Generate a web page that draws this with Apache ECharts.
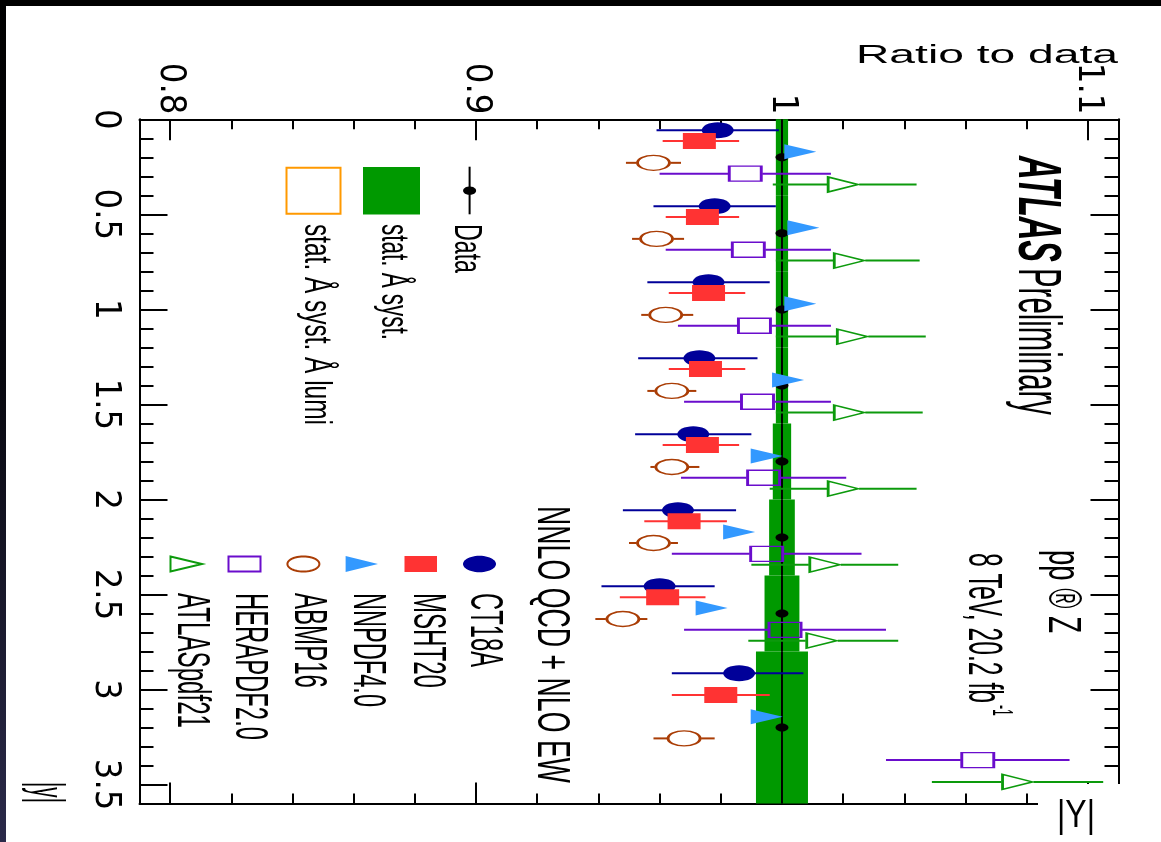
<!DOCTYPE html>
<html><head><meta charset="utf-8">
<script src="https://cdn.jsdelivr.net/npm/echarts@6/dist/echarts.min.js"></script>
<style>
html,body{margin:0;padding:0;background:#000;width:1161px;height:842px;overflow:hidden;}
#side{position:absolute;left:0;top:0;width:6px;height:842px;background:linear-gradient(to bottom,#000 0%,#08080f 45%,#2b2a4a 100%);}
#paper{position:absolute;left:6px;top:6px;width:1155px;height:836px;background:#fff;}
#chart{position:absolute;left:0;top:0;width:1161px;height:842px;}
</style></head><body>
<div id="side"></div><div id="paper"></div><div id="chart"></div>
<script>
// ---------------- data ----------------
const binEdges = [0, 0.4, 0.8, 1.2, 1.6, 2.0, 2.4, 2.8, 3.6];
const dataY = [0.2, 0.6, 1.0, 1.4, 1.8, 2.2, 2.6, 3.2];
const dataRatio = [1, 1, 1, 1, 1, 1, 1, 1];
const dataBandHalf = [0.002, 0.002, 0.002, 0.002, 0.003, 0.0042, 0.0057, 0.0085];

const ct18aY     = [0.057, 0.457, 0.857, 1.257, 1.657, 2.057, 2.457, 2.914];
const ct18aRatio = [0.979, 0.978, 0.976, 0.973, 0.971, 0.966, 0.960, 0.986];
const ct18aLow   = [0.959, 0.958, 0.956, 0.953, 0.952, 0.948, 0.941, 0.964];
const ct18aHigh  = [0.999, 0.998, 0.996, 0.992, 0.990, 0.985, 0.978, 1.007];

const msht20Y     = [0.114, 0.514, 0.914, 1.314, 1.714, 2.114, 2.514, 3.029];
const msht20Ratio = [0.973, 0.974, 0.976, 0.975, 0.974, 0.968, 0.961, 0.980];
const msht20Low   = [0.961, 0.962, 0.963, 0.963, 0.961, 0.955, 0.947, 0.964];
const msht20High  = [0.986, 0.986, 0.988, 0.988, 0.986, 0.982, 0.975, 0.996];

const nnpdf40Y     = [0.171, 0.571, 0.971, 1.371, 1.771, 2.171, 2.571, 3.143];
const nnpdf40Ratio = [1.006, 1.007, 1.006, 1.002, 0.995, 0.986, 0.977, 0.995];

const abmp16Y     = [0.229, 0.629, 1.029, 1.429, 1.829, 2.229, 2.629, 3.257];
const abmp16Ratio = [0.958, 0.959, 0.962, 0.964, 0.964, 0.958, 0.948, 0.968];
const abmp16Low   = [0.949, 0.951, 0.954, 0.956, 0.957, 0.950, 0.939, 0.958];
const abmp16High  = [0.967, 0.968, 0.971, 0.972, 0.973, 0.966, 0.956, 0.978];

const herapdf20Y     = [0.286, 0.686, 1.086, 1.486, 1.886, 2.286, 2.686, 3.371];
const herapdf20Ratio = [0.988, 0.989, 0.991, 0.992, 0.994, 0.995, 1.001, 1.064];
const herapdf20Low   = [0.960, 0.962, 0.966, 0.968, 0.967, 0.964, 0.968, 1.034];
const herapdf20High  = [1.016, 1.016, 1.016, 1.016, 1.021, 1.026, 1.034, 1.094];

const atlaspdf21Y     = [0.343, 0.743, 1.143, 1.543, 1.943, 2.343, 2.743, 3.486];
const atlaspdf21Ratio = [1.020, 1.022, 1.023, 1.022, 1.020, 1.014, 1.013, 1.077];
const atlaspdf21Low   = [0.997, 0.998, 0.998, 0.998, 0.996, 0.990, 0.989, 1.049];
const atlaspdf21High  = [1.044, 1.045, 1.047, 1.046, 1.044, 1.038, 1.038, 1.105];

const ratioTickLabels = [0.8, 0.9, 1.0, 1.1];
const ratioMinorTicks = [0.82, 0.84, 0.86, 0.88, 0.92, 0.94, 0.96, 0.98, 1.02, 1.04, 1.06, 1.08];
const absYTickLabels = [0, 0.5, 1, 1.5, 2, 2.5, 3, 3.5];
const absYMinorTicks = [0.1,0.2,0.3,0.4,0.6,0.7,0.8,0.9,1.1,1.2,1.3,1.4,1.6,1.7,1.8,1.9,2.1,2.2,2.3,2.4,2.6,2.7,2.8,2.9,3.1,3.2,3.3,3.4];

// ---------------- styles ----------------
const C_CT = '#000099', C_MSHT = '#ff3333', C_NN = '#3399ff', C_ABMP = '#aa3d05', C_HERA = '#6a0dcc', C_ATLAS = '#0c9a0c', C_BAND = '#009900', C_LUMI = '#ff9900';
const AXFONT = "'Liberation Sans Narrow','Arial Narrow','Nimbus Sans Narrow','DejaVu Sans Condensed','Liberation Sans',sans-serif";
const TXTFONT = "'Liberation Sans',Arial,Helvetica,sans-serif";
const ELLIPSE = 'path://M0,10 C0,4.5 4.5,0 10,0 C15.5,0 20,4.5 20,10 C20,15.5 15.5,20 10,20 C4.5,20 0,15.5 0,10 Z';
const TRI_R = 'path://M0,0 L20,10 L0,20 Z';

function ratioAxis(position, major, labels) {
  return {
    type: 'value', gridIndex: 0, position: position, min: 0.79, max: 1.11,
    axisLine: { show: major, onZero: false, lineStyle: { color: '#000', width: 2 } },
    axisTick: { show: true, inside: true, length: major ? 21 : 10, customValues: major ? ratioTickLabels : ratioMinorTicks, lineStyle: { color: '#000', width: 2 } },
    axisLabel: { show: labels, customValues: ratioTickLabels, rotate: 90, margin: 5, fontSize: 36, fontFamily: AXFONT, color: '#000' },
    splitLine: { show: false }
  };
}
function absYAxis(position, major, labels) {
  return {
    type: 'value', gridIndex: 0, position: position, min: 0, max: 3.6, inverse: true,
    axisLine: { show: major, onZero: false, lineStyle: { color: '#000', width: 2 } },
    axisTick: { show: true, inside: true, length: major ? 28 : 14, customValues: major ? absYTickLabels : absYMinorTicks, lineStyle: { color: '#000', width: 2 } },
    axisLabel: { show: labels, customValues: absYTickLabels, rotate: -90, margin: 16, fontSize: 36, fontFamily: AXFONT, color: '#000' },
    splitLine: { show: false }
  };
}

function errSeries(name, ys, vals, lows, highs, color, halfW, z) {
  return {
    type: 'custom', name: name + ' uncertainty', xAxisIndex: 0, yAxisIndex: 0, z: z, silent: true, clip: false,
    data: ys.map((y, i) => [vals[i], y, lows[i], highs[i]]),
    encode: { x: [0, 2, 3], y: 1 },
    renderItem: function (params, api) {
      const p = api.coord([api.value(0), api.value(1)]);
      const l = api.coord([api.value(2), api.value(1)]);
      const h = api.coord([api.value(3), api.value(1)]);
      const ch = [];
      if (l[0] < p[0] - halfW) ch.push({ type: 'line', shape: { x1: l[0], y1: p[1], x2: p[0] - halfW, y2: p[1] }, style: { stroke: color, lineWidth: 2 } });
      if (h[0] > p[0] + halfW) ch.push({ type: 'line', shape: { x1: p[0] + halfW, y1: p[1], x2: h[0], y2: p[1] }, style: { stroke: color, lineWidth: 2 } });
      return { type: 'group', children: ch };
    }
  };
}
function markSeries(name, ys, vals, symbol, size, fill, stroke, z) {
  return {
    type: 'scatter', name: name, xAxisIndex: 0, yAxisIndex: 0, z: z, silent: true,
    symbol: symbol, symbolSize: size,
    data: ys.map((y, i) => [vals[i], y]),
    itemStyle: { color: fill, borderColor: stroke || fill, borderWidth: stroke ? 2 : 0, opacity: 1 },
    emphasis: { disabled: true }
  };
}

// ---------------- annotation helpers ----------------
const mctx = document.createElement('canvas').getContext('2d');
function fontStr(size, o) { return (o.style || 'normal') + ' ' + (o.weight || 'normal') + ' ' + size + 'px ' + (o.family || TXTFONT); }
function vText(str, cx, y0, y1, size, o) {
  o = o || {};
  const f = fontStr(size, o); mctx.font = f;
  const w = mctx.measureText(str).width;
  return { type: 'text', x: cx, y: y0, rotation: -Math.PI / 2, scaleX: (y1 - y0) / w, scaleY: 1, z: 60, silent: true,
    style: { text: str, font: f, fill: o.color || '#000', align: 'left', verticalAlign: 'middle', textAlign: 'left', textVerticalAlign: 'middle' } };
}
function hText(str, x0, x1, cy, size, o) {
  o = o || {};
  const f = fontStr(size, o); mctx.font = f;
  const w = mctx.measureText(str).width;
  return { type: 'text', x: x0, y: cy, scaleX: (x1 - x0) / w, scaleY: 1, z: 60, silent: true,
    style: { text: str, font: f, fill: o.color || '#000', align: 'left', verticalAlign: 'middle', textAlign: 'left', textVerticalAlign: 'middle' } };
}
function ellipsePts(cx, cy, rx, ry) {
  const pts = [];
  for (let k = 0; k < 48; k++) { const a = k / 48 * Math.PI * 2; pts.push([cx + rx * Math.cos(a), cy + ry * Math.sin(a)]); }
  return pts;
}

const graphics = [
  // corner patch under the |Y| title
  { type: 'rect', shape: { x: 1038, y: 784, width: 123, height: 58 }, style: { fill: '#fff' }, z: 50, silent: true },
  hText('|Y|', 1057, 1095, 817, 38),
  hText('Ratio to data', 856, 1118, 56, 25),
  vText('|y|', 45, 782, 803, 47),
  // data legend
  { type: 'line', shape: { x1: 469.6, y1: 166.7, x2: 469.6, y2: 214.3 }, style: { stroke: '#000', lineWidth: 2 }, z: 60, silent: true },
  { type: 'polygon', shape: { points: ellipsePts(469.6, 190.7, 6.5, 4.2) }, style: { fill: '#000' }, z: 60, silent: true },
  vText('Data', 465, 224, 273, 38),
  { type: 'rect', shape: { x: 363, y: 167, width: 57, height: 47.5 }, style: { fill: C_BAND }, z: 60, silent: true },
  vText('stat. \u00C5 syst.', 392, 224, 340, 38),
  { type: 'rect', shape: { x: 286.5, y: 167.7, width: 54, height: 46 }, style: { fill: 'none', stroke: C_LUMI, lineWidth: 2 }, z: 60, silent: true },
  vText('stat. \u00C5 syst. \u00C5 lumi', 315, 224, 425, 38),
  // PDF legend
  vText('NNLO QCD + NLO EW', 551, 506, 783, 47),
  { type: 'polygon', shape: { points: ellipsePts(479.5, 564, 16.5, 8.2) }, style: { fill: C_CT }, z: 60, silent: true },
  vText('CT18A', 484, 593, 667, 47),
  { type: 'rect', shape: { x: 404.5, y: 556, width: 32.5, height: 16 }, style: { fill: C_MSHT }, z: 60, silent: true },
  vText('MSHT20', 427, 593, 688, 47),
  { type: 'polygon', shape: { points: [[345.6, 556], [378, 564], [345.6, 572]] }, style: { fill: C_NN }, z: 60, silent: true },
  vText('NNPDF4.0', 366.5, 593, 707, 47),
  { type: 'polygon', shape: { points: ellipsePts(303.4, 564, 16, 7.6) }, style: { fill: 'none', stroke: C_ABMP, lineWidth: 2 }, z: 60, silent: true },
  vText('ABMP16', 308, 593, 688, 47),
  { type: 'rect', shape: { x: 228.5, y: 556.5, width: 32, height: 15 }, style: { fill: 'none', stroke: C_HERA, lineWidth: 2 }, z: 60, silent: true },
  vText('HERAPDF2.0', 249, 593, 740, 47),
  { type: 'polygon', shape: { points: [[170.5, 556.5], [202, 564], [170.5, 571.5]] }, style: { fill: 'none', stroke: C_ATLAS, lineWidth: 2 }, z: 60, silent: true },
  vText('ATLASpdf21', 191, 593, 728, 47),
  // ATLAS label block
  vText('ATLAS', 1036, 156, 262, 61, { weight: 'bold', style: 'italic' }),
  vText('Preliminary', 1036, 268, 415, 61),
  vText('pp \u00AE Z', 1062, 550, 633, 46),
  vText('8 TeV, 20.2 fb', 983, 553, 703, 49),
  vText('-1', 1001, 705, 716, 30)
];

// ---------------- chart ----------------
const chart = echarts.init(document.getElementById('chart'), null, { renderer: 'canvas' });
chart.setOption({
  animation: false,
  backgroundColor: 'transparent',
  grid: { left: 139.5, top: 119.3, right: 42.5, bottom: 38.4, containLabel: false, outerBoundsMode: 'none' },
  xAxis: [ratioAxis('top', true, true), ratioAxis('top', false, false), ratioAxis('bottom', true, false), ratioAxis('bottom', false, false)],
  yAxis: [absYAxis('left', true, true), absYAxis('left', false, false), absYAxis('right', true, false), absYAxis('right', false, false)],
  series: [
    { // stat (+) syst band
      type: 'custom', name: 'stat. syst.', xAxisIndex: 0, yAxisIndex: 0, z: 2, silent: true,
      data: dataBandHalf.map((hw, i) => [dataRatio[i] - hw, dataRatio[i] + hw, binEdges[i], binEdges[i + 1]]),
      encode: { x: [0, 1], y: [2, 3] },
      renderItem: function (params, api) {
        const a = api.coord([api.value(0), api.value(2)]);
        const b = api.coord([api.value(1), api.value(3)]);
        return { type: 'rect', shape: { x: Math.min(a[0], b[0]), y: Math.min(a[1], b[1]), width: Math.abs(b[0] - a[0]), height: Math.abs(b[1] - a[1]) }, style: { fill: C_BAND } };
      }
    },
    { // data bin-width bars
      type: 'custom', name: 'Data bins', xAxisIndex: 0, yAxisIndex: 0, z: 3, silent: true,
      data: dataRatio.map((r, i) => [r, binEdges[i], binEdges[i + 1]]),
      encode: { x: 0, y: [1, 2] },
      renderItem: function (params, api) {
        const a = api.coord([api.value(0), api.value(1)]);
        const b = api.coord([api.value(0), api.value(2)]);
        return { type: 'line', shape: { x1: a[0], y1: a[1], x2: b[0], y2: b[1] }, style: { stroke: '#000', lineWidth: 2 } };
      }
    },
    markSeries('Data', dataY, dataRatio, ELLIPSE, [13, 8], '#000', null, 4),
    errSeries('ABMP16', abmp16Y, abmp16Ratio, abmp16Low, abmp16High, C_ABMP, 17, 5),
    markSeries('ABMP16', abmp16Y, abmp16Ratio, ELLIPSE, [32, 15], 'rgba(0,0,0,0)', C_ABMP, 6),
    errSeries('HERAPDF2.0', herapdf20Y, herapdf20Ratio, herapdf20Low, herapdf20High, C_HERA, 17, 5),
    markSeries('HERAPDF2.0', herapdf20Y, herapdf20Ratio, 'rect', [32, 15], 'rgba(0,0,0,0)', C_HERA, 6),
    errSeries('ATLASpdf21', atlaspdf21Y, atlaspdf21Ratio, atlaspdf21Low, atlaspdf21High, C_ATLAS, 16, 5),
    markSeries('ATLASpdf21', atlaspdf21Y, atlaspdf21Ratio, TRI_R, [30, 15], 'rgba(0,0,0,0)', C_ATLAS, 6),
    errSeries('CT18A', ct18aY, ct18aRatio, ct18aLow, ct18aHigh, C_CT, 0, 5),
    markSeries('CT18A', ct18aY, ct18aRatio, ELLIPSE, [32, 16], C_CT, null, 6),
    errSeries('MSHT20', msht20Y, msht20Ratio, msht20Low, msht20High, C_MSHT, 0, 5),
    markSeries('MSHT20', msht20Y, msht20Ratio, 'rect', [33, 16], C_MSHT, null, 6),
    markSeries('NNPDF4.0', nnpdf40Y, nnpdf40Ratio, TRI_R, [32, 15], C_NN, null, 6)
  ],
  graphic: { elements: graphics }
});
</script></body></html>
